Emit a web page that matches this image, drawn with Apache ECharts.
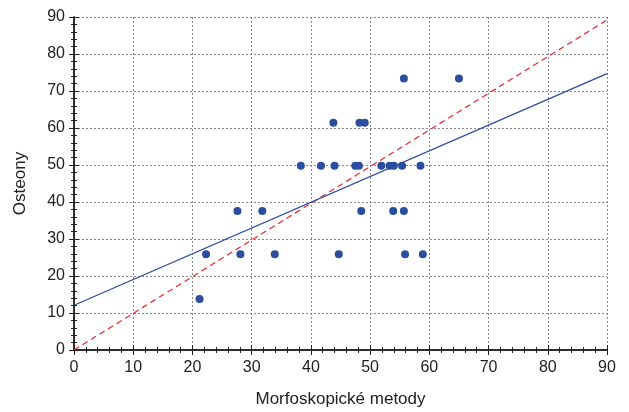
<!DOCTYPE html>
<html>
<head>
<meta charset="utf-8">
<script src="https://cdn.jsdelivr.net/npm/echarts@6/dist/echarts.min.js"></script>
<style>html,body{margin:0;padding:0;background:#fff}#c{width:629px;height:412px}</style>
</head>
<body>
<div id="c"></div>
<script>
var xValues = [21.2, 22.3, 28.1, 33.9, 44.7, 55.9, 58.9,
  27.6, 31.8, 48.5, 53.9, 55.7,
  38.3, 41.7, 44.0, 47.5, 48.1, 51.9, 53.3, 54.0, 55.4, 58.5,
  43.8, 48.2, 49.1,
  55.7, 65.0];
var yValues = [13.8, 25.9, 25.9, 25.9, 25.9, 25.9, 25.9,
  37.6, 37.6, 37.6, 37.6, 37.6,
  49.8, 49.8, 49.8, 49.8, 49.8, 49.8, 49.8, 49.8, 49.8, 49.8,
  61.4, 61.4, 61.4,
  73.4, 73.4];
var fitLine = [[0, 12.1], [90, 74.7]];
var identityLine = [[0, 0], [90, 89.2]];
var xTicks = [0, 10, 20, 30, 40, 50, 60, 70, 80, 90];
var yTicks = [0, 10, 20, 30, 40, 50, 60, 70, 80, 90];

var points = xValues.map(function (x, i) { return [x, yValues[i]]; });
var font = 'Liberation Sans, Arial, sans-serif';
var axisLine = { show: true, lineStyle: { color: '#222', width: 1.5 } };
var tick = { show: true, inside: true, length: 5, lineStyle: { color: '#222', width: 1 } };
var minor = { show: true, splitNumber: 5, length: 3, lineStyle: { color: '#222', width: 1 } };
var split = { show: true, lineStyle: { color: '#888', type: [2, 2], width: 1 } };

var chart = echarts.init(document.getElementById('c'), null, { renderer: 'canvas' });
chart.setOption({
  animation: false,
  backgroundColor: '#fff',
  grid: { left: 74, right: 22, top: 17, bottom: 62, outerBoundsMode: 'none' },
  xAxis: [{
    type: 'value', min: xTicks[0], max: xTicks[xTicks.length - 1], interval: 10,
    name: 'Morfoskopické metody', nameLocation: 'middle', nameGap: 41,
    nameTextStyle: { fontFamily: font, fontSize: 17, color: '#222' },
    axisLine: axisLine, axisTick: tick, minorTick: minor,
    axisLabel: { fontFamily: font, fontSize: 16, color: '#222', margin: 10 },
    splitLine: split
  }, {
    type: 'value', position: 'top', min: xTicks[0], max: xTicks[xTicks.length - 1], interval: 10,
    axisLine: axisLine, axisTick: tick, minorTick: minor,
    axisLabel: { show: false }, splitLine: { show: false }
  }],
  yAxis: [{
    type: 'value', min: yTicks[0], max: yTicks[yTicks.length - 1], interval: 10,
    name: 'Osteony', nameLocation: 'middle', nameGap: 45,
    nameTextStyle: { fontFamily: font, fontSize: 17, color: '#222' },
    axisLine: axisLine, axisTick: tick, minorTick: minor,
    axisLabel: { fontFamily: font, fontSize: 16, color: '#222', margin: 9 },
    splitLine: split
  }, {
    type: 'value', position: 'right', min: yTicks[0], max: yTicks[yTicks.length - 1], interval: 10,
    axisLine: axisLine, axisTick: tick, minorTick: minor,
    axisLabel: { show: false }, splitLine: { show: false }
  }],
  series: [{
    type: 'line', data: identityLine, showSymbol: false, symbol: 'none',
    lineStyle: { color: '#e8242c', width: 1.2, type: [6, 4] }, z: 2
  }, {
    type: 'line', data: fitLine, showSymbol: false, symbol: 'none',
    lineStyle: { color: '#2a48a0', width: 1.2 }, z: 3
  }, {
    type: 'scatter', data: points, symbolSize: 8,
    itemStyle: { color: '#2b4d9f', opacity: 1 }, z: 4
  }]
});
</script>
</body>
</html>
